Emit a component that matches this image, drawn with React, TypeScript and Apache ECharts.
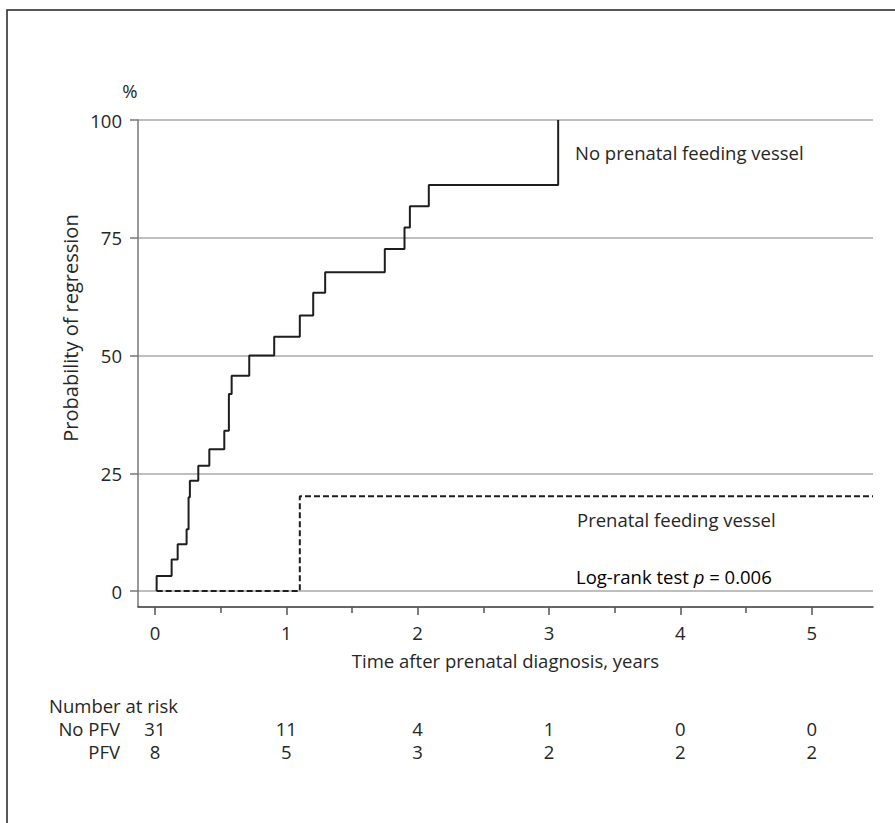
import React, { useEffect, useRef } from 'react';
import * as echarts from 'echarts';

// ---- Data ----
const noPfvTimes = [0.013, 0.013, 0.127, 0.173, 0.241, 0.256, 0.266, 0.33, 0.414, 0.528, 0.563, 0.584, 0.718, 0.908, 1.103, 1.205, 1.296, 1.75, 1.9, 1.941, 2.085, 3.07];
const noPfvValues = [0, 3.2, 6.7, 9.9, 13.1, 19.9, 23.4, 26.6, 30.1, 34.0, 41.8, 45.7, 50.0, 54.0, 58.5, 63.3, 67.7, 72.6, 77.2, 81.7, 86.2, 100];
const pfvTimes = [0.013, 1.103, 5.467];
const pfvValues = [0, 20.1, 20.1];

const xTicks = [0, 1, 2, 3, 4, 5];
const xMinorTicks = [0.5, 1.5, 2.5, 3.5, 4.5];
const yTickInterval = 25;

const riskHeader = 'Number at risk';
const riskGroups = ['No PFV', 'PFV'];
const riskTimes = [0, 1, 2, 3, 4, 5];
const riskNoPfv = [31, 11, 4, 1, 0, 0];
const riskPfv = [8, 5, 3, 2, 2, 2];

const seriesLabels = ['No prenatal feeding vessel', 'Prenatal feeding vessel'];
const xTitle = 'Time after prenatal diagnosis, years';
const yTitle = 'Probability of regression';

// ---- Layout / style ----
const W = 895;
const H = 823;
const FONT = '"Open Sans", "Noto Sans", sans-serif';
const FS = 18.5;
const TXT = '#262626';
const GRID_LEFT = 138;
const GRID_RIGHT = 22;
const GRID_TOP = 120;
const GRID_BOTTOM = 232;
const X_OFFSET = 16;
const X_MIN = -0.129;
const X_MAX = 5.467;

export default function App() {
  const ref = useRef<HTMLDivElement>(null);

  useEffect(() => {
    document.body.style.margin = '0';
    if (!ref.current) return;
    const chart = echarts.init(ref.current, undefined, { renderer: 'svg' });

    const textStyle = { fontFamily: FONT, fontSize: FS, color: TXT };

    const option: any = {
      animation: false,
      backgroundColor: '#fff',
      grid: { left: GRID_LEFT, right: GRID_RIGHT, top: GRID_TOP, bottom: GRID_BOTTOM, containLabel: false },
      xAxis: [
        {
          type: 'value',
          min: X_MIN,
          max: X_MAX,
          position: 'bottom',
          offset: X_OFFSET,
          axisLine: { show: true, onZero: false, lineStyle: { color: '#333', width: 1.5 } },
          axisTick: { show: true, customValues: xTicks, length: 8, lineStyle: { color: '#555', width: 1.5 } },
          axisLabel: { customValues: xTicks, margin: 16, ...textStyle },
          splitLine: { show: false },
          name: xTitle,
          nameLocation: 'middle',
          nameGap: 44,
          nameTextStyle: textStyle,
        },
        {
          type: 'value',
          min: X_MIN,
          max: X_MAX,
          position: 'bottom',
          offset: X_OFFSET,
          axisLine: { show: false, onZero: false },
          axisTick: { show: true, customValues: xMinorTicks, length: 6, lineStyle: { color: '#555', width: 1.5 } },
          axisLabel: { show: false },
          splitLine: { show: false },
        },
      ],
      yAxis: {
        type: 'value',
        min: 0,
        max: 100,
        interval: yTickInterval,
        axisLine: { show: true, onZero: false, lineStyle: { color: '#777', width: 1.5 } },
        axisTick: { show: true, length: 8, lineStyle: { color: '#777', width: 1.5 } },
        axisLabel: { margin: 16, ...textStyle },
        splitLine: { show: true, lineStyle: { color: '#aaa', width: 1.5 } },
      },
      series: [
        {
          name: seriesLabels[0],
          type: 'line',
          xAxisIndex: 0,
          step: 'end',
          symbol: 'none',
          data: noPfvTimes.map((t, i) => [t, noPfvValues[i]]),
          lineStyle: { color: '#1e1e1e', width: 2 },
        },
        {
          name: seriesLabels[1],
          type: 'line',
          xAxisIndex: 0,
          step: 'end',
          symbol: 'none',
          data: pfvTimes.map((t, i) => [t, pfvValues[i]]),
          lineStyle: { color: '#1e1e1e', width: 2, type: [6, 3] },
        },
      ],
    };

    chart.setOption(option);

    const txt = (text: string, x: number, y: number, align: string = 'left', extra: any = {}) => ({
      type: 'text',
      x,
      y,
      silent: true,
      style: {
        text,
        fill: TXT,
        font: `${FS}px ${FONT}`,
        textAlign: align,
        textVerticalAlign: 'middle',
        ...extra,
      },
    });

    const zeroY = H - GRID_BOTTOM;
    const graphics: any[] = [
      {
        type: 'rect',
        silent: true,
        shape: { x: 7, y: 10, width: 920, height: 840 },
        style: { fill: 'none', stroke: '#222', lineWidth: 1.5 },
      },
      {
        type: 'line',
        silent: true,
        shape: { x1: GRID_LEFT, y1: zeroY, x2: GRID_LEFT, y2: zeroY + X_OFFSET },
        style: { stroke: '#777', lineWidth: 1.5 },
      },
      txt('%', 130, 90, 'center'),
      { ...txt(yTitle, 70, 328, 'center', { font: `20px ${FONT}` }), rotation: Math.PI / 2 },
      txt(seriesLabels[0], 575, 152),
      txt(seriesLabels[1], 577, 519),
      {
        type: 'text',
        x: 576,
        y: 576,
        silent: true,
        style: {
          text: '{n|Log-rank test }{i|p}{n| = 0.006}',
          textVerticalAlign: 'middle',
          rich: {
            n: { fontFamily: FONT, fontSize: FS, color: TXT },
            i: { fontFamily: FONT, fontSize: FS, color: TXT, fontStyle: 'italic' },
          },
        },
      },
      txt(riskHeader, 49, 705),
      txt(riskGroups[0], 120, 728, 'right'),
      txt(riskGroups[1], 120, 751, 'right'),
    ];

    riskTimes.forEach((t, i) => {
      const px = chart.convertToPixel({ xAxisIndex: 0 }, t) as number;
      graphics.push(txt(String(riskNoPfv[i]), px, 728, 'center'));
      graphics.push(txt(String(riskPfv[i]), px, 751, 'center'));
    });

    chart.setOption({ graphic: graphics });

    return () => chart.dispose();
  }, []);

  return <div ref={ref} style={{ width: W, height: H }} />;
}
